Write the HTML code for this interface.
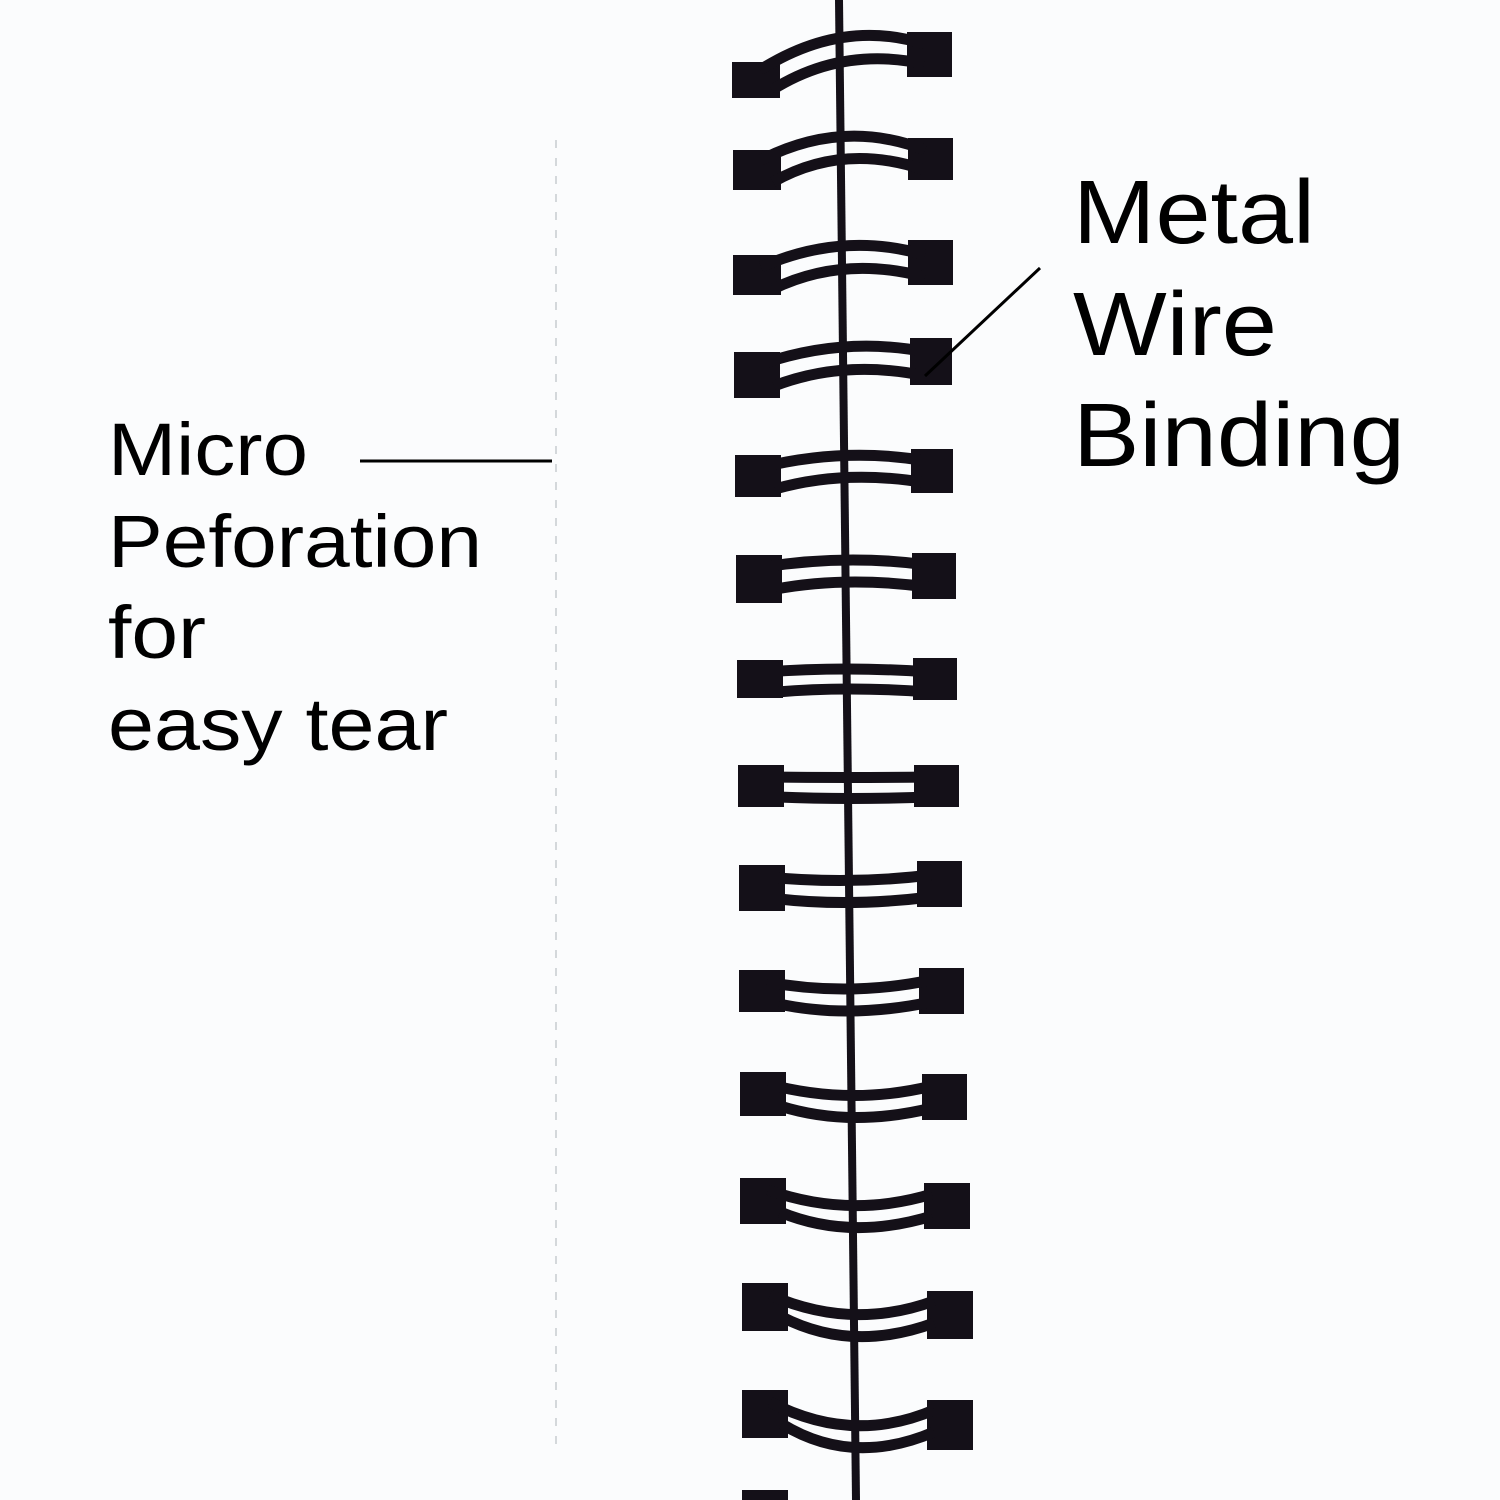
<!DOCTYPE html>
<html><head><style>
html,body{margin:0;padding:0;background:#fcfdfe;}
svg{display:block}
</style></head><body>
<svg width="1500" height="1500" viewBox="0 0 1500 1500" xmlns="http://www.w3.org/2000/svg">
<rect width="1500" height="1500" fill="#fbfcfd"/>
<line x1="556" y1="140" x2="556" y2="1450" stroke="#c8ccd0" stroke-width="1.5" stroke-dasharray="8 10"/>
<g fill="#141018" stroke="#141018">
<g transform="translate(732,62)"><rect x="0" y="0" width="48" height="36" stroke="none"/><rect x="175" y="-30" width="45" height="45" stroke="none"/><path d="M28 8 Q110 -44 192 -18" fill="none" stroke-width="11"/><path d="M40 28 Q110 -16 192 2" fill="none" stroke-width="11"/></g>
<g transform="translate(733,150)"><rect x="0" y="0" width="48" height="40" stroke="none"/><rect x="175" y="-12" width="45" height="42" stroke="none"/><path d="M28 10 Q110 -32 192 0" fill="none" stroke-width="11"/><path d="M40 32 Q110 -8 192 20" fill="none" stroke-width="11"/></g>
<g transform="translate(733,255)"><rect x="0" y="0" width="48" height="40" stroke="none"/><rect x="175" y="-15" width="45" height="45" stroke="none"/><path d="M28 12 Q110 -24 192 0" fill="none" stroke-width="11"/><path d="M40 34 Q110 0 192 22" fill="none" stroke-width="11"/></g>
<g transform="translate(734,352)"><rect x="0" y="0" width="46" height="46" stroke="none"/><rect x="176" y="-14" width="42" height="47" stroke="none"/><path d="M28 12 Q110 -16 192 0" fill="none" stroke-width="11"/><path d="M40 34 Q110 7 192 24" fill="none" stroke-width="11"/></g>
<g transform="translate(735,455)"><rect x="0" y="0" width="46" height="42" stroke="none"/><rect x="176" y="-6" width="42" height="44" stroke="none"/><path d="M28 12 Q110 -8 192 6" fill="none" stroke-width="11"/><path d="M40 34 Q110 14 192 28" fill="none" stroke-width="11"/></g>
<g transform="translate(736,555)"><rect x="0" y="0" width="46" height="48" stroke="none"/><rect x="176" y="-2" width="44" height="46" stroke="none"/><path d="M28 12 Q110 -1 192 10" fill="none" stroke-width="11"/><path d="M40 34 Q110 21 192 32" fill="none" stroke-width="11"/></g>
<g transform="translate(737,660)"><rect x="0" y="0" width="46" height="38" stroke="none"/><rect x="176" y="-2" width="44" height="42" stroke="none"/><path d="M28 12 Q110 6 192 12" fill="none" stroke-width="11"/><path d="M40 32 Q110 26 192 32" fill="none" stroke-width="11"/></g>
<g transform="translate(738,765)"><rect x="0" y="0" width="46" height="42" stroke="none"/><rect x="176" y="0" width="45" height="42" stroke="none"/><path d="M28 12 Q110 13 192 12" fill="none" stroke-width="11"/><path d="M40 32 Q110 35 192 32" fill="none" stroke-width="11"/></g>
<g transform="translate(739,865)"><rect x="0" y="0" width="46" height="46" stroke="none"/><rect x="178" y="-4" width="45" height="46" stroke="none"/><path d="M28 12 Q110 20 192 10" fill="none" stroke-width="11"/><path d="M40 34 Q110 42 192 32" fill="none" stroke-width="11"/></g>
<g transform="translate(739,970)"><rect x="0" y="0" width="46" height="42" stroke="none"/><rect x="180" y="-2" width="45" height="46" stroke="none"/><path d="M28 12 Q110 27 192 10" fill="none" stroke-width="11"/><path d="M40 34 Q110 49 192 32" fill="none" stroke-width="11"/></g>
<g transform="translate(740,1072)"><rect x="0" y="0" width="46" height="44" stroke="none"/><rect x="182" y="2" width="45" height="46" stroke="none"/><path d="M28 12 Q110 34 192 14" fill="none" stroke-width="11"/><path d="M40 34 Q110 56 192 36" fill="none" stroke-width="11"/></g>
<g transform="translate(740,1178)"><rect x="0" y="0" width="46" height="46" stroke="none"/><rect x="184" y="5" width="46" height="46" stroke="none"/><path d="M28 12 Q110 41 192 16" fill="none" stroke-width="11"/><path d="M40 34 Q110 63 192 38" fill="none" stroke-width="11"/></g>
<g transform="translate(742,1283)"><rect x="0" y="0" width="46" height="48" stroke="none"/><rect x="185" y="8" width="46" height="48" stroke="none"/><path d="M28 12 Q110 48 192 18" fill="none" stroke-width="11"/><path d="M40 34 Q110 70 192 40" fill="none" stroke-width="11"/></g>
<g transform="translate(742,1390)"><rect x="0" y="0" width="46" height="48" stroke="none"/><rect x="185" y="10" width="46" height="50" stroke="none"/><path d="M28 12 Q110 55 192 20" fill="none" stroke-width="11"/><path d="M40 34 Q110 77 192 42" fill="none" stroke-width="11"/></g>
<rect x="742" y="1490" width="46" height="10" stroke="none"/>
</g>
<line x1="839" y1="0" x2="856" y2="1500" stroke="#141018" stroke-width="8"/>
<line x1="360" y1="461" x2="552" y2="461" stroke="#000" stroke-width="3"/>
<line x1="1040" y1="268" x2="925" y2="376" stroke="#000" stroke-width="3"/>
<g font-family="Liberation Sans, sans-serif" fill="#000">
<text x="108" y="475" font-size="74" textLength="200" lengthAdjust="spacingAndGlyphs">Micro</text>
<text x="108" y="567" font-size="74" textLength="374" lengthAdjust="spacingAndGlyphs">Peforation</text>
<text x="108" y="658" font-size="74" textLength="98" lengthAdjust="spacingAndGlyphs">for</text>
<text x="108" y="750" font-size="74" textLength="340" lengthAdjust="spacingAndGlyphs">easy tear</text>
<text x="1073" y="243" font-size="90" textLength="242" lengthAdjust="spacingAndGlyphs">Metal</text>
<text x="1073" y="355" font-size="90" textLength="204" lengthAdjust="spacingAndGlyphs">Wire</text>
<text x="1073" y="466" font-size="90" textLength="332" lengthAdjust="spacingAndGlyphs">Binding</text>
</g>
</svg>
</body></html>
